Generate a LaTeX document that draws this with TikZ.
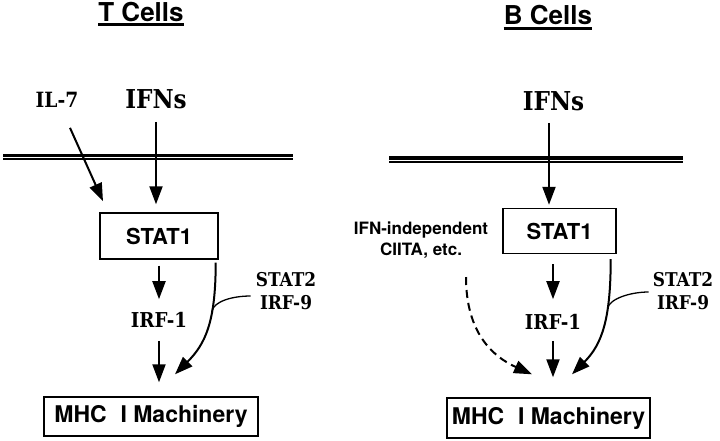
\documentclass[tikz,border=0pt]{standalone}
\usepackage{fontspec}
\newfontfamily\hv{TeX Gyre Heros}
\newfontfamily\dvs[FakeStretch=0.89]{DejaVu Serif}
\usetikzlibrary{arrows.meta}
\begin{document}
\begin{tikzpicture}[x=1pt,y=-1pt,
  arr/.style={line width=2pt,-{Triangle[length=18pt,width=13pt]}},
  thin/.style={line width=1.3pt},
  ser/.style={inner sep=0pt,font=\dvs\bfseries\fontsize{#1}{#1}\selectfont},
  sans/.style={inner sep=0pt,font=\hv\bfseries\fontsize{#1}{#1}\selectfont},
  box/.style={draw,line width=1.4pt,inner sep=0pt},
  memtop/.style={line width=3.2pt},
  membot/.style={line width=1.6pt}
]
\useasboundingbox (0,0) rectangle (720,441);

% headings
\node[sans=26,anchor=base] (tT) at (141,22) {T Cells};
\draw[line width=2.2pt] ([yshift=-2.5pt]tT.base west) -- ([yshift=-2.5pt]tT.base east);
\node[sans=26,anchor=base] (tB) at (548,25) {B Cells};
\draw[line width=2.2pt] ([yshift=-3.5pt]tB.base west) -- ([yshift=-3.5pt]tB.base east);

% membranes
\draw[memtop] (3,155.5) -- (293,155.5);
\draw[membot] (3,159.2) -- (293,159.2);
\draw[memtop] (389,158) -- (683,158);
\draw[membot] (389,161.7) -- (683,161.7);

% ---------- T cells ----------
\node[ser=21] (ilT) at (57,100) {IL-7};
\node[ser=26] (ifT) at (156,99) {IFNs};
\node[box,sans=22,minimum width=118pt,minimum height=46pt] (stT) at (159,236) {STAT1};
\node[ser=20.5] (irT) at (159,320) {IRF-1};
\node[inner sep=0pt,align=center,font=\dvs\bfseries\fontsize{19}{23}\selectfont] (s2T) at (286,291) {STAT2\\IRF-9};
\node[box,sans=23,minimum width=214pt,minimum height=39pt] (mhT) at (151,416.5) {MHC\hspace{0.6em}I Machinery};

\draw[arr] ([xshift=13pt,yshift=-20pt]ilT.south) -- ([xshift=-56pt,yshift=11pt]stT.north);
\draw[arr] ([yshift=-13pt]ifT.south) -- ([xshift=-3pt,yshift=8pt]stT.north);
\draw[arr] ([yshift=-6pt]stT.south) -- ([yshift=13pt]irT.north);
\draw[arr] ([yshift=-13pt]irT.south) -- ([xshift=8pt,yshift=14pt]mhT.north);
\draw[arr] ([xshift=-3pt,yshift=-3pt]stT.south east) .. controls +(0,60) and +(30,-30) .. ([xshift=24pt,yshift=22pt]mhT.north) coordinate[pos=0.33] (jT);
\draw[thin] ([xshift=-5pt,yshift=-5pt]s2T.west) .. controls +(-18,0) and +(2,-10) .. (jT);

% ---------- B cells ----------
\node[ser=26] (ifB) at (553.5,101) {IFNs};
\node[box,sans=22,minimum width=113pt,minimum height=45pt] (stB) at (559.5,231) {STAT1};
\node[ser=20.5] (irB) at (553,322) {IRF-1};
\node[inner sep=0pt,align=center,font=\dvs\bfseries\fontsize{19}{23}\selectfont] (s2B) at (683,291) {STAT2\\IRF-9};
\node[inner sep=0pt,align=center,font=\hv\bfseries\fontsize{17}{21}\selectfont] (inB) at (421,240.5) {IFN-independent\\CIITA, etc.};
\node[box,sans=23,minimum width=203pt,minimum height=40pt] (mhB) at (548.5,418) {MHC\hspace{0.6em}I Machinery};

\draw[arr] ([xshift=-4.5pt,yshift=-12pt]ifB.south) -- ([xshift=-10.5pt,yshift=3pt]stB.north);
\draw[arr] ([xshift=-6.5pt,yshift=-10pt]stB.south) -- ([yshift=15pt]irB.north);
\draw[arr] ([yshift=-11pt]irB.south) -- ([xshift=4.5pt,yshift=20pt]mhB.north);
\draw[arr] ([xshift=-6pt,yshift=-5pt]stB.south east) .. controls +(0,60) and +(30,-30) .. ([xshift=23.5pt,yshift=23pt]mhB.north) coordinate[pos=0.33] (jB);
\draw[thin] ([xshift=-4pt,yshift=-1pt]s2B.west) .. controls +(-18,0) and +(2,-10) .. (jB);
\draw[arr,dash pattern=on 8pt off 5pt] ([xshift=45pt,yshift=-18pt]inB.south) .. controls +(0,55) and +(-40,-18) .. ([xshift=-16.5pt,yshift=23pt]mhB.north);
\end{tikzpicture}
\end{document}
